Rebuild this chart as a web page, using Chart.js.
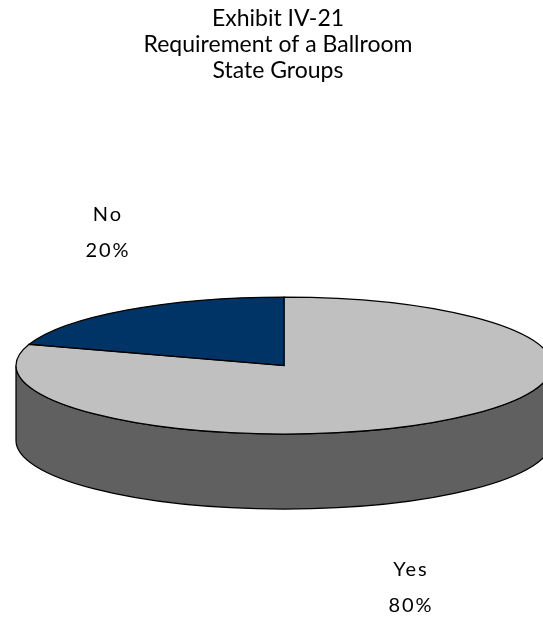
<!DOCTYPE html>
<html>
<head>
<meta charset="utf-8">
<script src="https://cdn.jsdelivr.net/npm/chart.js@4/dist/chart.umd.min.js"></script>
<style>
  html, body { margin: 0; padding: 0; background: #ffffff; }
  #chart { display: block; }
</style>
</head>
<body>
<canvas id="chart" width="543" height="619"></canvas>
<script>
// Survey answers
const categories = ['Yes', 'No'];
const shares = [80, 20];
const sliceColors = ['#C0C0C0', '#003366'];
const titleLines = ['Exhibit IV-21', 'Requirement of a Ballroom', 'State Groups'];

// Tilted-disc view of the pie
const VIEW = { cx: 284, cy: 365.5, radius: 268, tilt: 68.5 / 268, depth: 75 };

// Where each slice's caption sits (centre of the two-line block)
const CAPTION_POS = { Yes: { x: 410, y: 588 }, No: { x: 107, y: 233 } };

function darken(hex, f) {
  const n = parseInt(hex.slice(1), 16);
  const r = Math.round(((n >> 16) & 255) * f);
  const g = Math.round(((n >> 8) & 255) * f);
  const b = Math.round((n & 255) * f);
  return `rgb(${r},${g},${b})`;
}

// Portions of [a,b] lying on the front half of the disc (canvas angles 0..PI)
function frontSpans(a, b) {
  const spans = [];
  for (let k = -2; k <= 2; k++) {
    const lo = Math.max(a, k * 2 * Math.PI);
    const hi = Math.min(b, k * 2 * Math.PI + Math.PI);
    if (hi > lo) spans.push([lo, hi]);
  }
  return spans;
}

const EDGE_WIDTH = 1.25;

const pie3d = {
  id: 'pie3d',
  beforeDatasetsDraw(chart) {
    const ctx = chart.ctx;
    const arcs = chart.getDatasetMeta(0).data;
    const { cx, cy, tilt, depth } = VIEW;
    // side wall
    arcs.forEach((el, i) => {
      const r = el.outerRadius;
      frontSpans(el.startAngle, el.endAngle).forEach(([a, b]) => {
        ctx.save();
        ctx.beginPath();
        ctx.ellipse(cx, cy, r, r * tilt, 0, a, b);
        ctx.ellipse(cx, cy + depth, r, r * tilt, 0, b, a, true);
        ctx.closePath();
        ctx.fillStyle = darken(sliceColors[i], 0.5);
        ctx.fill();
        ctx.strokeStyle = '#000000';
        ctx.lineWidth = EDGE_WIDTH;
        ctx.stroke();
        ctx.restore();
      });
    });
    // squash the flat pie into the tilted top face
    const el0 = arcs[0];
    ctx.save();
    ctx.translate(cx, cy);
    ctx.scale(1, tilt);
    ctx.translate(-el0.x, -el0.y);
  },
  afterDatasetsDraw(chart) {
    const ctx = chart.ctx;
    ctx.restore();
    const arcs = chart.getDatasetMeta(0).data;
    const { cx, cy, tilt } = VIEW;
    ctx.save();
    ctx.strokeStyle = '#000000';
    ctx.lineWidth = EDGE_WIDTH;
    arcs.forEach((el) => {
      const r = el.outerRadius;
      const a = el.startAngle, b = el.endAngle;
      ctx.beginPath();
      ctx.moveTo(cx, cy);
      ctx.lineTo(cx + r * Math.cos(a), cy + r * tilt * Math.sin(a));
      ctx.ellipse(cx, cy, r, r * tilt, 0, a, b);
      ctx.closePath();
      ctx.stroke();
    });
    ctx.restore();
  },
  afterDraw(chart) {
    const ctx = chart.ctx;
    const total = shares.reduce((s, v) => s + v, 0);
    ctx.save();
    ctx.fillStyle = '#000000';
    ctx.font = '20px Lato, "Open Sans", sans-serif';
    ctx.textAlign = 'center';
    ctx.textBaseline = 'middle';
    if ('letterSpacing' in ctx) ctx.letterSpacing = '2px';
    categories.forEach((name, i) => {
      const p = CAPTION_POS[name];
      const pct = Math.round(shares[i] / total * 100) + '%';
      ctx.fillText(name, p.x + 1, p.y - 18);
      ctx.fillText(pct, p.x + 1, p.y + 18);
    });
    ctx.restore();
  }
};

new Chart(document.getElementById('chart'), {
  type: 'pie',
  data: {
    labels: categories,
    datasets: [{
      data: shares,
      backgroundColor: sliceColors,
      borderWidth: 0,
      radius: VIEW.radius,
      clip: false
    }]
  },
  options: {
    responsive: false,
    animation: false,
    devicePixelRatio: 1,
    layout: { padding: { left: 16, right: 3, top: 0, bottom: 0 } },
    plugins: {
      legend: { display: false },
      tooltip: { enabled: false },
      title: {
        display: true,
        text: titleLines,
        color: '#000000',
        font: { family: 'Lato, "Open Sans", sans-serif', size: 23, weight: 'normal', lineHeight: 1.13 },
        padding: { top: 6, bottom: 0 }
      }
    }
  },
  plugins: [pie3d]
});
</script>
</body>
</html>
